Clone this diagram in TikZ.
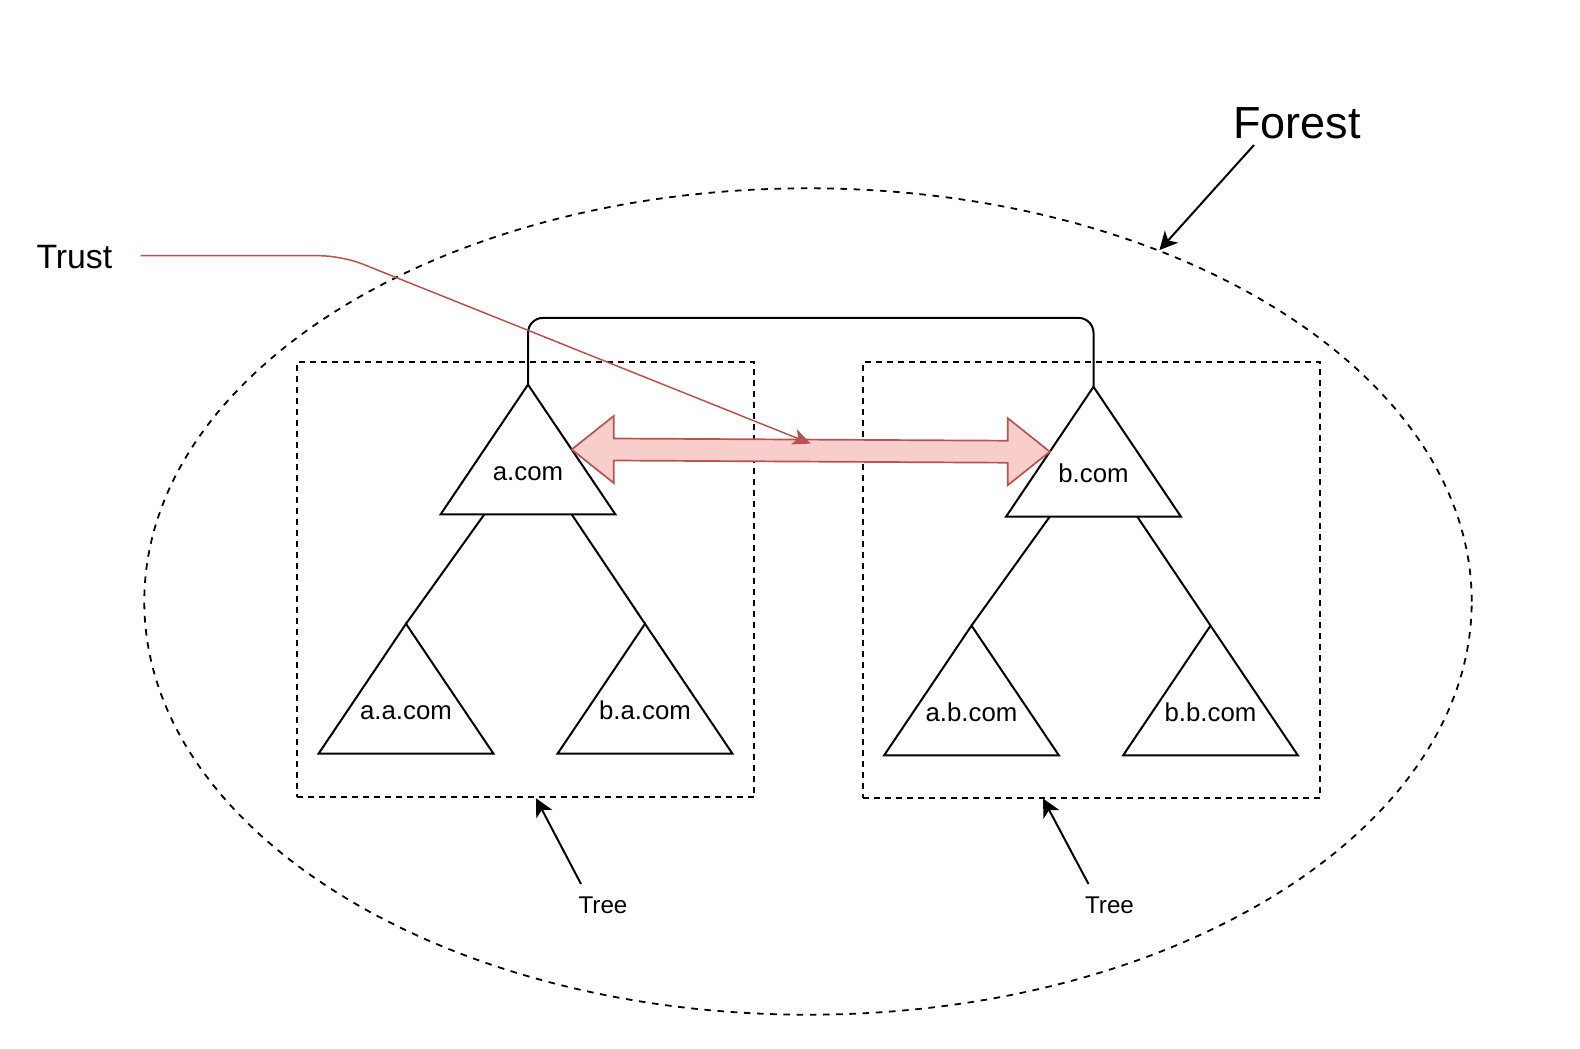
\documentclass[tikz,border=0pt]{standalone}
\usepackage{fontspec}
\setmainfont{Liberation Sans}
\usetikzlibrary{arrows.meta, calc, shapes.geometric}
\definecolor{trustline}{HTML}{B85450}
\definecolor{trustfill}{HTML}{F8CECC}
\tikzset{
  domnode/.style   = {font=\fontsize{12.9}{15}\selectfont, inner sep=0pt,
                      minimum width=87pt, text height=47.5pt, text depth=17pt},
  domline/.style   = {draw=black, line width=1pt},
  treebox/.style   = {draw=black, line width=0.9pt, dash pattern=on 3pt off 2.5pt,
                      minimum width=228.6pt, minimum height=217.8pt, inner sep=0pt},
  forestring/.style= {ellipse, draw=black, line width=0.9pt, dash pattern=on 3.3pt off 3.3pt,
                      minimum width=663.7pt, minimum height=413.2pt, inner sep=0pt},
  lbl/.style       = {inner sep=0pt},
  pointer/.style   = {draw=black, line width=1pt,
                      -{Stealth[length=9pt, width=9pt, inset=2.5pt]}},
  trustarr/.style  = {draw=trustline, line width=0.75pt, rounded corners=11pt,
                      -{Stealth[length=9pt, width=8pt, inset=2.2pt]}},
  fatarr/.style    = {draw=trustline, fill=trustfill, line width=0.85pt, line join=miter},
}

\begin{document}
\begin{tikzpicture}[x=0.5pt, y=-0.5pt]
  \useasboundingbox (0,0) rectangle (1580,1049);

  % forest and the two trees
  \node[forestring] (forest) at (808,601.5) {};
  \node[treebox] (treeA) at (525.4,579.5) {};
  \node[treebox] (treeB) at (1091.2,579.8) {};

  % domains
  \node[domnode] (acom)  at (528,449.5)  {a.com};
  \node[domnode] (bcom)  at (1093.5,451.7) {b.com};
  \node[domnode] (aacom) at (406,688.7)  {a.a.com};
  \node[domnode] (bacom) at (645,688.7)  {b.a.com};
  \node[domnode] (abcom) at (971.5,690.5) {a.b.com};
  \node[domnode] (bbcom) at (1210.5,690.5) {b.b.com};
  \foreach \d in {acom,bcom,aacom,bacom,abcom,bbcom}
    \draw[domline] (\d.north) -- (\d.south east) -- (\d.south west) -- cycle;

  \draw[domline] ($(acom.south west)!0.25!(acom.south east)$) -- (aacom.north);
  \draw[domline] ($(acom.south west)!0.75!(acom.south east)$) -- (bacom.north);
  \draw[domline] ($(bcom.south west)!0.25!(bcom.south east)$) -- (abcom.north);
  \draw[domline] ($(bcom.south west)!0.75!(bcom.south east)$) -- (bbcom.north);
  \draw[domline, rounded corners=7.5pt] (acom.north) -- ++(0,-66.7) -| (bcom.north);

  % two-way trust
  \coordinate (ta) at ($(acom.north)!0.5!(acom.south east)$);
  \coordinate (tb) at ($(bcom.north)!0.5!(bcom.south west)$);
  \draw[fatarr] (ta) -- ++(42,-33.5) -- ++(0,22.5) -- ($(tb)+(-42,-11)$) -- ++(0,-22.5)
    -- (tb) -- ++(-42,33.5) -- ++(0,-22.5) -- ($(ta)+(42,11)$) -- ++(0,22.5) -- cycle;
  \coordinate (tend) at ($(ta)!0.5!(tb)+(0,-7)$);

  % labels
  \node[lbl, font=\fontsize{16.9}{20}\selectfont] (trust) at (74.4,257.5) {Trust};
  \node[lbl, font=\fontsize{22.5}{27}\selectfont] (flbl) at (1297,123) {Forest};
  \node[lbl, font=\fontsize{12.1}{14}\selectfont] (tlA) at (603,905) {Tree};
  \node[lbl, font=\fontsize{12.1}{14}\selectfont] (tlB) at (1109.5,905) {Tree};

  \draw[trustarr] ($(trust.center)+(66.3,-1.8)$) -- ++(201,0) -- (tend);
  \draw[pointer] ($(flbl.center)+(-43,22)$) -- (forest.45);
  \draw[pointer] ($(tlA.center)+(-22,-21)$) -- ($(treeA.south west)!0.523!(treeA.south east)$);
  \draw[pointer] ($(tlB.center)+(-21,-21)$) -- ($(treeB.south west)!0.395!(treeB.south east)$);
\end{tikzpicture}
\end{document}
